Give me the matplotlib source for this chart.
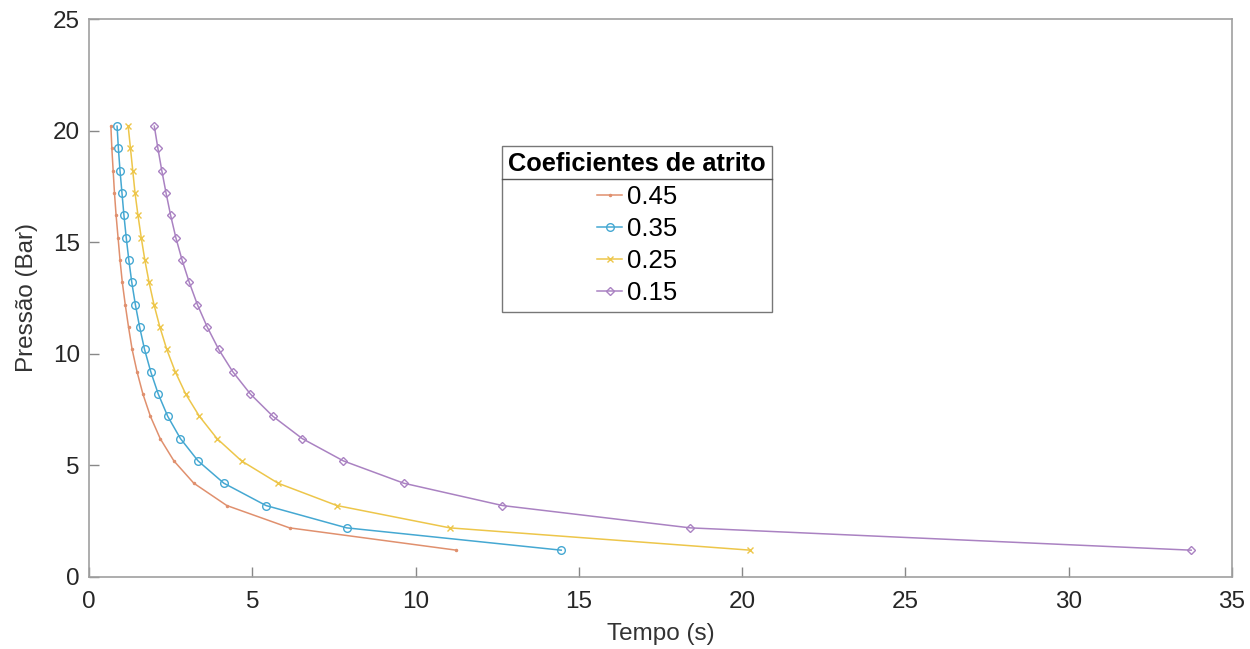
import matplotlib
matplotlib.use("Agg")
import matplotlib.pyplot as plt
from matplotlib.lines import Line2D

plt.rcParams["font.family"] = ["Liberation Sans", "DejaVu Sans"]

# pressure levels (Bar), same for all curves
pressao = [20.2, 19.2, 18.2, 17.2, 16.2, 15.2, 14.2, 13.2, 12.2, 11.2,
           10.2, 9.2, 8.2, 7.2, 6.2, 5.2, 4.2, 3.2, 2.2, 1.2]

# time (s), one list per friction coefficient
tempo_045 = [0.67, 0.70, 0.74, 0.78, 0.83, 0.89, 0.95, 1.02, 1.11, 1.21,
             1.32, 1.47, 1.65, 1.88, 2.18, 2.60, 3.21, 4.22, 6.14, 11.25]
tempo_035 = [0.86, 0.90, 0.95, 1.01, 1.07, 1.14, 1.22, 1.31, 1.42, 1.55,
             1.70, 1.89, 2.12, 2.41, 2.80, 3.34, 4.13, 5.42, 7.89, 14.46]
tempo_025 = [1.20, 1.27, 1.34, 1.41, 1.50, 1.60, 1.71, 1.84, 1.99, 2.17,
             2.38, 2.64, 2.96, 3.38, 3.92, 4.67, 5.79, 7.59, 11.05, 20.25]
tempo_015 = [2.00, 2.11, 2.23, 2.36, 2.50, 2.66, 2.85, 3.07, 3.32, 3.62,
             3.97, 4.40, 4.94, 5.63, 6.53, 7.79, 9.64, 12.66, 18.41, 33.75]

rotulos = ["0.45", "0.35", "0.25", "0.15"]
cores = ["#E0906E", "#45A8D2", "#EDC64A", "#AA82C2"]
marcadores = [".", "o", "x", "D"]
tamanhos = [3, 5.5, 4.5, 4.2]

fig = plt.figure(figsize=(12.5, 6.49), dpi=100)
ax = fig.add_axes([0.0712, 0.111, 0.9144, 0.8597])

series = [tempo_045, tempo_035, tempo_025, tempo_015]
for t, lab, c, m, ms in zip(series, rotulos, cores, marcadores, tamanhos):
    ax.plot(t, pressao, color=c, marker=m, markersize=ms,
            markerfacecolor="none" if m in ("o", "D") else c,
            markeredgewidth=1.0, linewidth=1.1, label=lab)

ax.set_xlim(0, 35)
ax.set_ylim(0, 25)
ax.set_xticks(range(0, 36, 5))
ax.set_yticks(range(0, 26, 5))
ax.tick_params(direction="in", length=7, width=1, color="#888888",
               labelsize=17.5, labelcolor="#262626")
ax.tick_params(axis="x", pad=10)
ax.tick_params(axis="y", pad=6.5)
for s in ax.spines.values():
    s.set_color("#A0A0A0")
    s.set_linewidth(1.2)

ax.set_xlabel("Tempo (s)", fontsize=17.5, color="#333333", labelpad=7)
ax.set_ylabel("Pressão (Bar)", fontsize=17.5, color="#333333", labelpad=11)

leg = ax.legend(title="Coeficientes de atrito", loc="upper left",
                bbox_to_anchor=(0.3613, 0.7724), borderaxespad=0,
                fontsize=18.5, alignment="center",
                title_fontproperties={"weight": "bold", "size": 18.3},
                frameon=True, fancybox=False, edgecolor="#555555",
                handlelength=1.0, handletextpad=0.2, labelspacing=0.32,
                borderpad=0.25)
leg.get_frame().set_linewidth(1.0)

# separator line under the legend title
fig.canvas.draw()
r = fig.canvas.get_renderer()
fb = leg.get_frame().get_window_extent(r)
tb = leg.get_title().get_window_extent(r)
yline = tb.y0 - 0.5 * 0.32 * 18.5
inv = fig.transFigure.inverted()
x0, y0 = inv.transform((fb.x0, yline))
x1, _ = inv.transform((fb.x1, yline))
fig.add_artist(Line2D([x0, x1], [y0, y0], color="#555555", linewidth=1.0,
                      transform=fig.transFigure))

fig.savefig("out.png", dpi=100)
